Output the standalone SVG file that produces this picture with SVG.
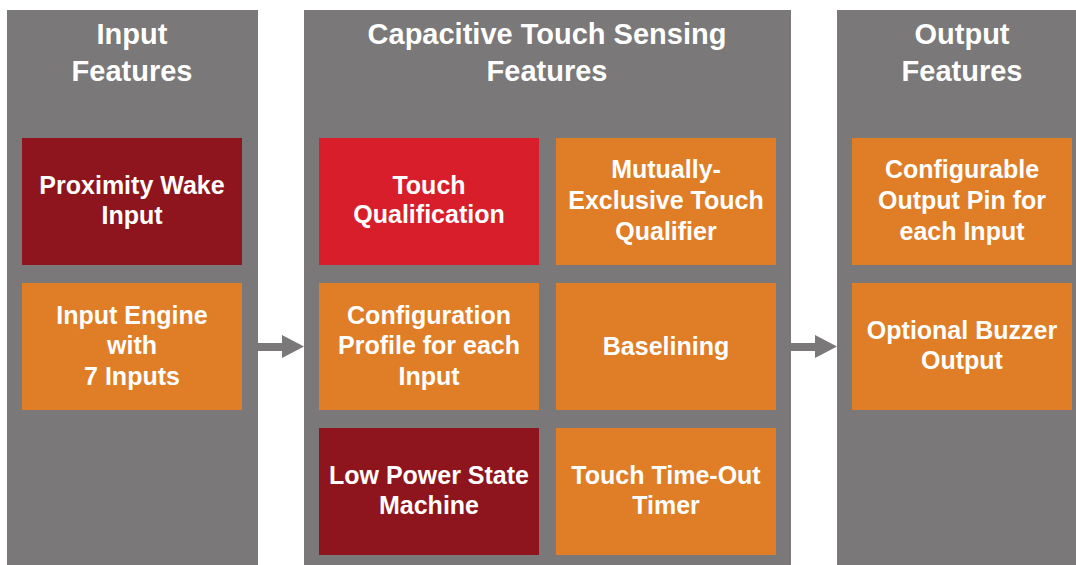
<svg xmlns="http://www.w3.org/2000/svg" width="1076" height="565" viewBox="0 0 1076 565">
<style>
.panel{fill:#7a7878}
.dark{fill:#8e141d}
.red{fill:#d81e2a}
.orange{fill:#e07d27}
text{font-family:"Liberation Sans",Arial,sans-serif;font-weight:bold;fill:#ffffff;text-anchor:middle}
.title{font-size:29px}
.lbl{font-size:25px}
.arrow{fill:#7a7878}
</style>
<rect width="1076" height="565" fill="#ffffff"/>
<g id="panel-input">
<rect class="panel" x="7" y="10" width="251" height="555"/>
<text class="title" x="132" y="44">Input</text>
<text class="title" x="132" y="81">Features</text>
</g>
<g id="panel-cts">
<rect class="panel" x="304" y="10" width="487" height="555"/>
<text class="title" x="547" y="44">Capacitive Touch Sensing</text>
<text class="title" x="547" y="81">Features</text>
</g>
<g id="panel-output">
<rect class="panel" x="837" y="10" width="251" height="555"/>
<text class="title" x="962" y="44">Output</text>
<text class="title" x="962" y="81">Features</text>
</g>
<g id="proximity-wake">
<rect class="dark" x="22" y="138" width="220" height="127"/>
<text class="lbl" x="132" y="194">Proximity Wake</text>
<text class="lbl" x="132" y="224">Input</text>
</g>
<g id="input-engine">
<rect class="orange" x="22" y="283" width="220" height="127"/>
<text class="lbl" x="132" y="324">Input Engine</text>
<text class="lbl" x="132" y="354">with</text>
<text class="lbl" x="132" y="385">7 Inputs</text>
</g>
<g id="touch-qualification">
<rect class="red" x="319" y="138" width="220" height="127"/>
<text class="lbl" x="429" y="194">Touch</text>
<text class="lbl" x="429" y="223">Qualification</text>
</g>
<g id="mutually-exclusive">
<rect class="orange" x="556" y="138" width="220" height="127"/>
<text class="lbl" x="666" y="178">Mutually-</text>
<text class="lbl" x="666" y="209">Exclusive Touch</text>
<text class="lbl" x="666" y="240">Qualifier</text>
</g>
<g id="configuration-profile">
<rect class="orange" x="319" y="283" width="220" height="127"/>
<text class="lbl" x="429" y="324">Configuration</text>
<text class="lbl" x="429" y="354">Profile for each</text>
<text class="lbl" x="429" y="385">Input</text>
</g>
<g id="baselining">
<rect class="orange" x="556" y="283" width="220" height="127"/>
<text class="lbl" x="666" y="355">Baselining</text>
</g>
<g id="low-power">
<rect class="dark" x="319" y="428" width="220" height="127"/>
<text class="lbl" x="429" y="484">Low Power State</text>
<text class="lbl" x="429" y="514">Machine</text>
</g>
<g id="touch-timeout">
<rect class="orange" x="556" y="428" width="220" height="127"/>
<text class="lbl" x="666" y="484">Touch Time-Out</text>
<text class="lbl" x="666" y="514">Timer</text>
</g>
<g id="configurable-output">
<rect class="orange" x="852" y="138" width="220" height="127"/>
<text class="lbl" x="962" y="178">Configurable</text>
<text class="lbl" x="962" y="209">Output Pin for</text>
<text class="lbl" x="962" y="240">each Input</text>
</g>
<g id="buzzer-output">
<rect class="orange" x="852" y="283" width="220" height="127"/>
<text class="lbl" x="962" y="339">Optional Buzzer</text>
<text class="lbl" x="962" y="369">Output</text>
</g>
<g id="connectors">
<polygon class="arrow" points="258,343 282,343 282,335 304,346.5 282,358 282,351 258,351"/>
<polygon class="arrow" points="791,343 815,343 815,335 837,346.5 815,358 815,351 791,351"/>
</g>
</svg>
